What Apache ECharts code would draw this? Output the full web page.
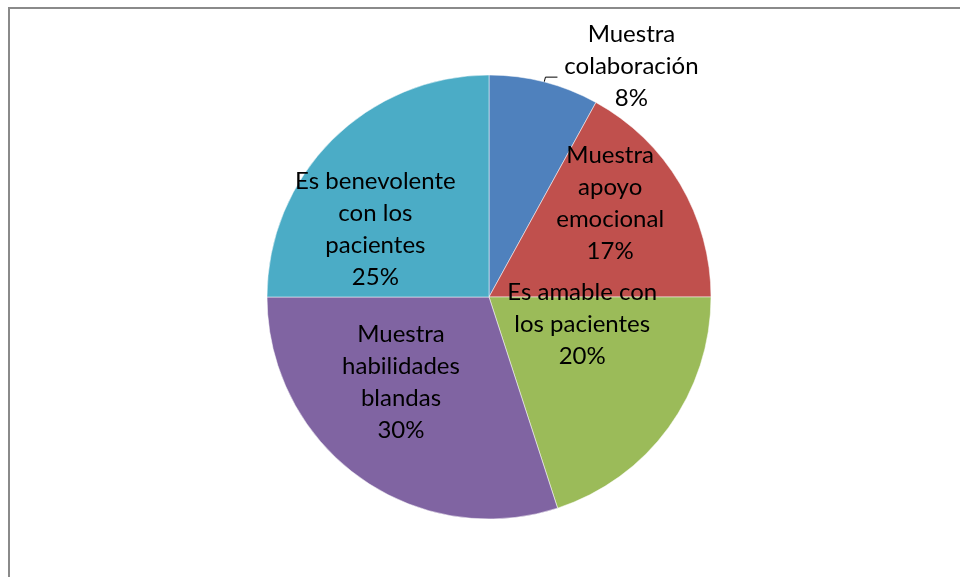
<!DOCTYPE html>
<html>
<head>
<meta charset="utf-8">
<script src="https://cdn.jsdelivr.net/npm/echarts@6/dist/echarts.min.js"></script>
<style>
html, body { margin: 0; padding: 0; background: #fff; }
#chart { width: 960px; height: 577px; }
</style>
</head>
<body>
<div id="chart"></div>
<script>
// datos del gráfico
const categories = ['Muestra\ncolaboración', 'Muestra\napoyo\nemocional', 'Es amable con\nlos pacientes', 'Muestra\nhabilidades\nblandas', 'Es benevolente\ncon los\npacientes'];
const values = [8, 17, 20, 30, 25];
const colors = ['#4F81BD', '#C0504D', '#9BBB59', '#8064A2', '#4BACC6'];

// desplazamiento de cada etiqueta respecto a su posición por defecto
const labelShift = [[69, -11], [23, -36], [1, -40], [-21, -7], [-33, 13]];

const myChart = echarts.init(document.getElementById('chart'));

let option = {
  animation: false,
  backgroundColor: '#fff',
  graphic: [{
    type: 'rect',
    shape: { x: 9, y: 8, width: 1000, height: 700 },
    style: { fill: 'none', stroke: '#8a8a8a', lineWidth: 2 },
    silent: true
  }],
  series: [{
    type: 'pie',
    center: [489, 297],
    radius: 222,
    startAngle: 90,
    clockwise: true,
    itemStyle: { borderColor: '#fff', borderWidth: 0.5 },
    label: {
      position: 'inside',
      color: '#000',
      fontFamily: 'Lato, "Open Sans", sans-serif',
      fontSize: 24,
      lineHeight: 32,
      align: 'center',
      formatter: p => p.name + '\n' + p.value + '%'
    },
    labelLayout: function (p) {
      const s = labelShift[p.dataIndex];
      const out = { dx: s[0], dy: s[1] };
      if (p.dataIndex === 0) {
        out.align = 'center';
        out.labelLinePoints = p.labelLinePoints;
      }
      return out;
    },
    data: categories.map((c, i) => {
      const d = { name: c, value: values[i], itemStyle: { color: colors[i] } };
      if (i === 0) {
        d.label = { position: 'outside', overflow: 'none' };
        d.labelLine = { show: true, length: 5, length2: 12, lineStyle: { color: '#000', width: 1 } };
      }
      return d;
    })
  }]
};

myChart.setOption(option);
</script>
</body>
</html>
